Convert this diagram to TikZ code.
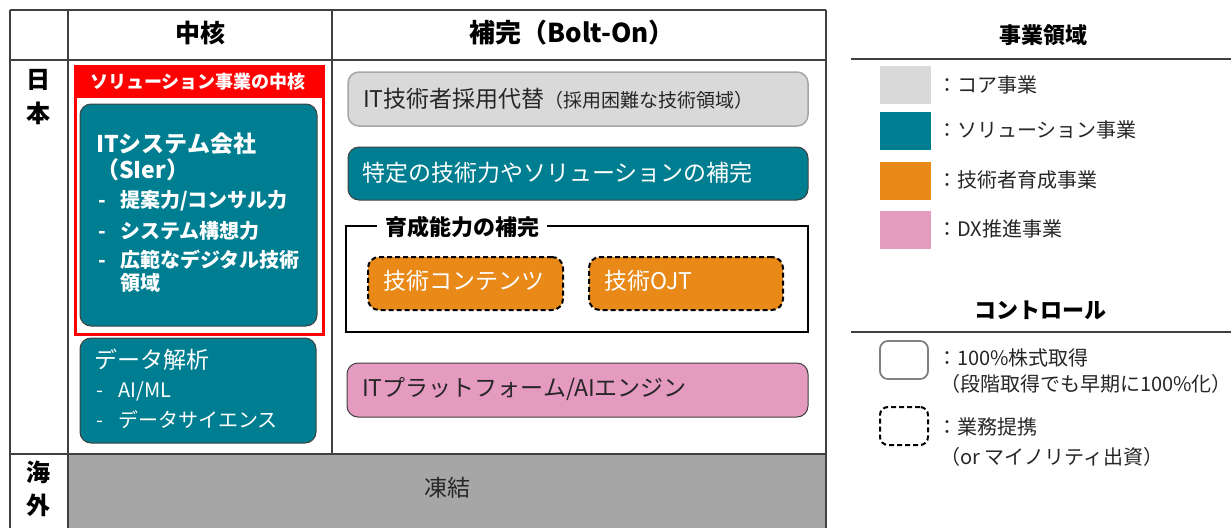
\documentclass[tikz,border=0pt]{standalone}
\usepackage{fontspec}
\setmainfont{Noto Sans CJK JP}
\definecolor{tealc}{RGB}{0,126,145}
\definecolor{orangec}{RGB}{232,137,24}
\definecolor{pinkc}{RGB}{229,154,192}
\definecolor{lgray}{RGB}{217,217,217}
\definecolor{dgray}{RGB}{166,166,166}
\definecolor{linec}{RGB}{64,64,64}
\definecolor{txtc}{RGB}{38,38,38}
\definecolor{redc}{RGB}{255,0,0}
\newcommand\fsz[2]{\fontsize{#1}{#2}\selectfont}
\tikzset{
  grid/.style={draw=linec, line width=1.2pt},
  rbox/.style={rectangle, rounded corners=11pt, draw=linec, line width=1pt, inner sep=0pt},
  tealbox/.style={rbox, fill=tealc},
  dashbox/.style={rbox, fill=orangec, draw=black, line width=2pt, dash pattern=on 5pt off 3pt},
  txt/.style={inner sep=0pt, anchor=west, text=txtc},
  wtxt/.style={inner sep=0pt, anchor=west, text=white},
  hdr/.style={inner sep=0pt, text=black, font=\fsz{25}{30}\bfseries},
  legsq/.style={rectangle, inner sep=0pt, minimum width=51pt, minimum height=38pt},
  legtxt/.style={inner sep=0pt, anchor=west, text=txtc, font=\fsz{20}{24}},
}
\begin{document}
\begin{tikzpicture}[x=1pt,y=-1pt]
\useasboundingbox (0,0) rectangle (1231,528);
% frozen area
\node[rectangle, fill=dgray, inner sep=0pt, minimum width=758pt, minimum height=74pt] (freeze) at (447,491) {};
\node[txt, anchor=center, font=\fsz{23}{28}] (freezet) at (447,488) {凍結};
% table grid
\coordinate (tl) at (10,10); \coordinate (tr) at (826,10);
\coordinate (hl) at (10,60); \coordinate (hr) at (826,60);
\coordinate (rl) at (10,454); \coordinate (rr) at (826,454);
\coordinate (bl) at (10,528); \coordinate (br) at (826,528);
\coordinate (c1t) at (68,10); \coordinate (c1b) at (68,528);
\coordinate (c2t) at (332,10); \coordinate (c2b) at (332,454);
\draw[grid] (tl) -- (tr);
\draw[grid] (hl) -- (hr);
\draw[grid] (rl) -- (rr);
\draw[grid] (tl) -- (bl);
\draw[grid] (c1t) -- (c1b);
\draw[grid] (c2t) -- (c2b);
\draw[grid] (tr) -- (br);
% headers
\node[hdr] (h1) at (200,33) {中核};
\node[hdr, font=\fsz{26}{30}\bfseries] (h2) at (572,33) {補完（Bolt-On）};
\node[hdr, font=\fsz{24}{28}\bfseries] (j1) at (38,80) {日};
\node[hdr, font=\fsz{24}{28}\bfseries] (j2) at (38,113) {本};
\node[hdr, font=\fsz{24}{28}\bfseries] (k1) at (38,472) {海};
\node[hdr, font=\fsz{24}{28}\bfseries] (k2) at (38,505) {外};
% red core frame
\node[rectangle, draw=redc, line width=3pt, inner sep=0pt, minimum width=248pt, minimum height=268pt] (red) at (199,200) {};
\node[rectangle, fill=redc, inner sep=0pt, minimum width=248pt, minimum height=32pt] (redband) at (199,82) {};
\node[wtxt, anchor=center, font=\fsz{18}{22}\bfseries] (redt) at (198,82) {ソリューション事業の中核};
% SIer box
\node[tealbox, minimum width=237pt, minimum height=222pt] (sier) at (198.5,215) {};
\node[wtxt, font=\fsz{23}{27}\bfseries] (s1) at (96,144) {ITシステム会社};
\node[wtxt, font=\fsz{23}{27}\bfseries] (s2) at (96,170) {（SIer）};
\node[wtxt, font=\fsz{20}{24}\bfseries] (s3) at (98,201) {\makebox[22pt][l]{-}提案力/コンサル力};
\node[wtxt, font=\fsz{20}{24}\bfseries] (s4) at (98,231) {\makebox[22pt][l]{-}システム構想力};
\node[wtxt, font=\fsz{20}{24}\bfseries] (s5) at (98,260) {\makebox[22pt][l]{-}広範なデジタル技術};
\node[wtxt, font=\fsz{20}{24}\bfseries] (s6) at (120,283) {領域};
% data box
\node[tealbox, minimum width=236pt, minimum height=105pt] (data) at (198,390.5) {};
\node[wtxt, font=\fsz{23}{28}] (d1) at (94,360) {データ解析};
\node[wtxt, font=\fsz{20}{24}] (d2) at (96,391) {\makebox[22pt][l]{-}AI/ML};
\node[wtxt, font=\fsz{20}{24}] (d3) at (96,420) {\makebox[22pt][l]{-}データサイエンス};
% right column
\node[rbox, fill=lgray, draw=dgray, line width=1.5pt, minimum width=460pt, minimum height=54pt] (core) at (578,99) {};
\node[txt] (coret) at (363,99) {{\fsz{23}{28}IT技術者採用代替}{\fsz{19}{23}（採用困難な技術領域）}};
\node[tealbox, minimum width=460pt, minimum height=53pt] (sol) at (578,173.5) {};
\node[wtxt, font=\fsz{23}{28}] (solt) at (362,173) {特定の技術力やソリューションの補完};
\node[rectangle, draw=black, line width=1.5pt, inner sep=0pt, minimum width=462pt, minimum height=106pt] (frame) at (577,279) {};
\node[rectangle, fill=white, inner xsep=8pt, inner ysep=2pt, text=black, font=\fsz{22}{26}\bfseries] (framet) at (462,227) {育成能力の補完};
\node[dashbox, minimum width=195pt, minimum height=53pt] (or1) at (465.5,283.5) {};
\node[wtxt, font=\fsz{23}{28}] (or1t) at (383,281) {技術コンテンツ};
\node[dashbox, minimum width=194pt, minimum height=53pt] (or2) at (686,283.5) {};
\node[wtxt, font=\fsz{23}{28}] (or2t) at (604,281) {技術OJT};
\node[rbox, fill=pinkc, draw=linec, minimum width=461pt, minimum height=54pt] (dx) at (577.5,390) {};
\node[txt, font=\fsz{23}{28}] (dxt) at (362,389) {ITプラットフォーム/AIエンジン};
% legend: business areas
\node[hdr, font=\fsz{22}{26}\bfseries] (lg1) at (1043,35) {事業領域};
\coordinate (l1a) at (851,59); \coordinate (l1b) at (1231,59);
\draw[grid] (l1a) -- (l1b);
\node[legsq, fill=lgray] (q1) at (905.5,85) {};
\node[legsq, fill=tealc] (q2) at (905.5,131) {};
\node[legsq, fill=orangec] (q3) at (905.5,180.5) {};
\node[legsq, fill=pinkc] (q4) at (905.5,230) {};
\node[legtxt] (q1t) at (937,85) {：コア事業};
\node[legtxt] (q2t) at (937,130) {：ソリューション事業};
\node[legtxt] (q3t) at (937,180) {：技術者育成事業};
\node[legtxt] (q4t) at (937,229) {：DX推進事業};
% legend: control
\node[hdr, font=\fsz{22}{26}\bfseries] (lg2) at (1040,310) {コントロール};
\coordinate (l2a) at (851,332); \coordinate (l2b) at (1231,332);
\draw[grid] (l2a) -- (l2b);
\node[rectangle, rounded corners=8pt, draw=gray, line width=1.8pt, minimum width=48pt, minimum height=38pt, inner sep=0pt] (c1) at (904,360) {};
\node[rectangle, rounded corners=8pt, draw=black, line width=2pt, dash pattern=on 5pt off 3pt, minimum width=48pt, minimum height=38pt, inner sep=0pt] (c2) at (904,426) {};
\node[legtxt] (c1t) at (937,358) {：100\%株式取得};
\node[legtxt] (c1u) at (940,384) {（段階取得でも早期に100\%化）};
\node[legtxt] (c2t) at (937,427) {：業務提携};
\node[legtxt] (c2u) at (940,457) {（or マイノリティ出資）};
\end{tikzpicture}
\end{document}
